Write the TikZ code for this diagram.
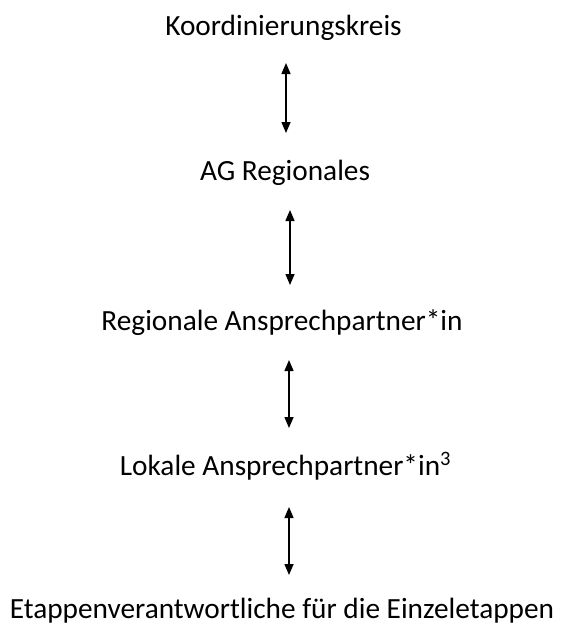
\documentclass[tikz,border=0pt]{standalone}
\usepackage{fontspec}
\setmainfont{Carlito}
\usetikzlibrary{arrows.meta}
\begin{document}
\begin{tikzpicture}[x=1pt,y=-1pt,
  lbl/.style={anchor=base,inner sep=0pt,font=\fontsize{29.3}{34}\selectfont},
  conn/.style={{Triangle[width=9pt,length=11pt]}-{Triangle[width=9pt,length=11pt]},line width=1.5pt}]
\useasboundingbox (0,0) rectangle (562,630);
\node[lbl] (k) at (283.5,35) {Koordinierungskreis};
\node[lbl] (ag) at (285,180) {AG Regionales};
\node[lbl] (ra) at (282,330) {Regionale Ansprechpartner*in};
\node[lbl] (la) at (285.5,475) {Lokale Ansprechpartner*in\textsuperscript{3}};
\node[lbl] (et) at (282,618) {Etappenverantwortliche für die Einzeletappen};
\coordinate (a1t) at (286,63);  \coordinate (a1b) at (286,133);
\coordinate (a2t) at (290,210); \coordinate (a2b) at (290,285);
\coordinate (a3t) at (289,360); \coordinate (a3b) at (289,428);
\coordinate (a4t) at (289,507); \coordinate (a4b) at (289,575);
\draw[conn] (a1t) -- (a1b);
\draw[conn] (a2t) -- (a2b);
\draw[conn] (a3t) -- (a3b);
\draw[conn] (a4t) -- (a4b);
\end{tikzpicture}
\end{document}
